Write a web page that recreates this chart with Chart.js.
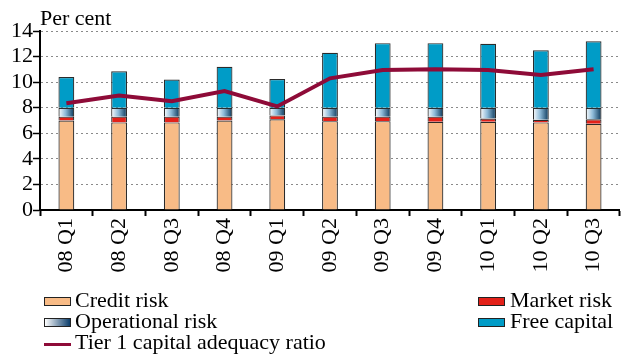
<!DOCTYPE html>
<html>
<head>
<meta charset="utf-8">
<script src="https://cdn.jsdelivr.net/npm/chart.js@4/dist/chart.umd.min.js"></script>
<style>
  body { margin: 0; background: #fff; }
  #wrap { position: relative; width: 622px; height: 356px; font-family: "Liberation Serif", serif; }
  #grafico { position: absolute; left: 0; top: 0; }
  .leg { position: absolute; font-size: 22px; line-height: 22px; color: #000; white-space: nowrap; }
  .caixa { position: absolute; width: 25px; height: 7px; border: 1px solid #222; }
  .linha { position: absolute; width: 27px; height: 3px; background: #8e0b38; }
</style>
</head>
<body>
<div id="wrap">
  <canvas id="grafico" width="622" height="290"></canvas>
  <div class="caixa" style="left:44px;top:297px;background:#f8bb86"></div>
  <div class="leg" style="left:75px;top:289px">Credit risk</div>
  <div class="caixa" style="left:44px;top:318px;background:linear-gradient(to right,#ffffff,#0b3d6b)"></div>
  <div class="leg" style="left:75px;top:310px">Operational risk</div>
  <div class="linha" style="left:44px;top:343px"></div>
  <div class="leg" style="left:75px;top:331px">Tier 1 capital adequacy ratio</div>
  <div class="caixa" style="left:478px;top:297px;background:#e32119"></div>
  <div class="leg" style="left:510px;top:289px">Market risk</div>
  <div class="caixa" style="left:478px;top:318px;background:#009cc7"></div>
  <div class="leg" style="left:510px;top:310px">Free capital</div>
</div>
<script>
// Trimestres
const trimestres = ["08 Q1", "08 Q2", "08 Q3", "08 Q4", "09 Q1", "09 Q2", "09 Q3", "09 Q4", "10 Q1", "10 Q2", "10 Q3"];

// Componentes do capital (por cento)
const creditRisk = [7.0, 6.85, 6.85, 7.0, 7.1, 6.95, 6.95, 6.9, 6.9, 6.85, 6.75];
const marketRisk = [0.3, 0.45, 0.45, 0.3, 0.3, 0.35, 0.35, 0.4, 0.25, 0.2, 0.35];
const operationalRisk = [0.7, 0.7, 0.7, 0.7, 0.6, 0.7, 0.7, 0.7, 0.85, 0.95, 0.9];
const freeCapital = [2.4, 2.85, 2.2, 3.2, 2.25, 4.3, 5.05, 5.05, 5.0, 4.5, 5.2];
const tier1Ratio = [8.35, 8.95, 8.5, 9.3, 8.1, 10.3, 10.95, 11.0, 10.95, 10.55, 11.0];

const yTicks = [0, 2, 4, 6, 8, 10, 12, 14];

const fonte = { family: "Liberation Serif", size: 22 };
const larguraBarra = 0.3;

// Gradiente horizontal para o risco operacional, calculado a partir da escala x
function gradienteOperacional(c) {
  const ch = c.chart;
  const x = ch.scales && ch.scales.x;
  if (c.type !== "data" || !x) return "#4d86b3";
  const centro = x.getPixelForValue(c.dataIndex);
  const meia = (x.width / trimestres.length) * larguraBarra / 2;
  if (!isFinite(centro) || !isFinite(meia) || meia <= 0) return "#4d86b3";
  const g = ch.ctx.createLinearGradient(centro - meia, 0, centro + meia, 0);
  g.addColorStop(0, "#ffffff");
  g.addColorStop(0.45, "#8dbad8");
  g.addColorStop(1, "#083659");
  return g;
}

// Texto "Per cent" acima do eixo y
const tituloEixo = {
  id: "tituloEixo",
  afterDraw(chart) {
    const ctx = chart.ctx;
    ctx.save();
    ctx.font = "22px 'Liberation Serif'";
    ctx.fillStyle = "#000";
    ctx.textBaseline = "alphabetic";
    ctx.fillText("Per cent", chart.chartArea.left, 25);
    ctx.restore();
  }
};

const barra = {
  type: "bar",
  stack: "barras",
  order: 1,
  borderColor: "#2b2b2b",
  borderWidth: 1.2,
  barPercentage: larguraBarra,
  categoryPercentage: 1
};

const ctx = document.getElementById("grafico");
const myChart = new Chart(ctx, {
  data: {
    labels: trimestres,
    datasets: [
      Object.assign({}, barra, { label: "Credit risk", data: creditRisk, backgroundColor: "#f8bb86" }),
      Object.assign({}, barra, { label: "Market risk", data: marketRisk, backgroundColor: "#e32119" }),
      Object.assign({}, barra, { label: "Operational risk", data: operationalRisk, backgroundColor: gradienteOperacional }),
      Object.assign({}, barra, { label: "Free capital", data: freeCapital, backgroundColor: "#009cc7" }),
      {
        type: "line",
        label: "Tier 1 capital adequacy ratio",
        data: tier1Ratio,
        stack: "linha",
        order: 0,
        borderColor: "#8e0b38",
        borderWidth: 4,
        pointRadius: 0,
        tension: 0,
        fill: false
      }
    ]
  },
  options: {
    responsive: false,
    animation: false,
    devicePixelRatio: 1,
    layout: { padding: { top: 31, right: 0, left: 0, bottom: 0 } },
    plugins: {
      legend: { display: false },
      tooltip: { enabled: false }
    },
    scales: {
      x: {
        stacked: true,
        grid: { drawOnChartArea: false, offset: true, tickLength: 6, tickColor: "#000", tickWidth: 2 },
        border: { color: "#000", width: 2 },
        ticks: { color: "#000", font: fonte, minRotation: 90, maxRotation: 90, padding: 2, autoSkip: false },
        afterFit(s) { s.height = 80; }
      },
      y: {
        stacked: true,
        min: 0,
        max: 14,
        afterBuildTicks(s) { s.ticks = yTicks.map(v => ({ value: v })); },
        grid: { color: "#8a8a8a", lineWidth: 1, tickLength: 7, tickColor: "#000", tickWidth: 1.5 },
        border: { color: "#000", width: 2, dash: [2, 3] },
        ticks: { color: "#000", font: fonte, padding: 0, autoSkip: false },
        afterFit(s) { s.width = 40; }
      }
    }
  },
  plugins: [tituloEixo]
});
</script>
</body>
</html>
